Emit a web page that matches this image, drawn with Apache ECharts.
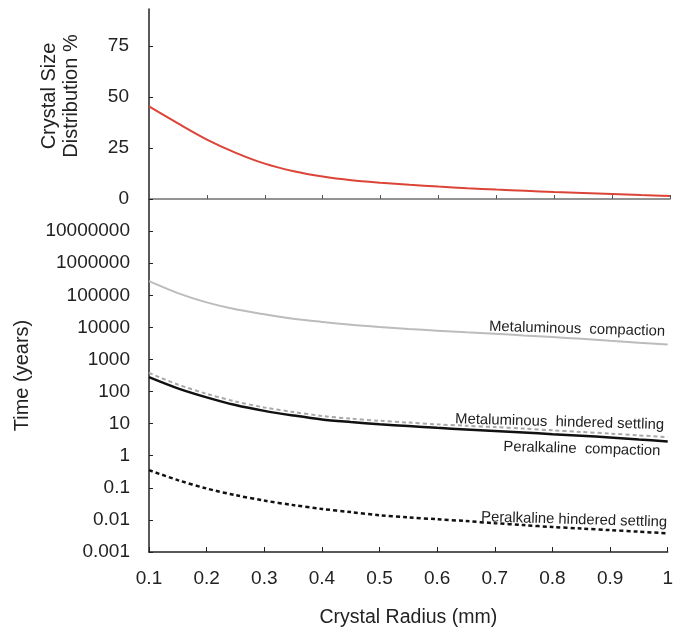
<!DOCTYPE html>
<html><head><meta charset="utf-8">
<script src="https://cdn.jsdelivr.net/npm/echarts@6/dist/echarts.min.js"></script>
<style>html,body{margin:0;padding:0;background:#fff}#c{width:676px;height:633px}</style>
</head><body><div id="c"></div>
<script>
const radius = [0.1, 0.15, 0.2, 0.25, 0.3, 0.35, 0.4, 0.45, 0.5, 0.55, 0.6, 0.65, 0.7, 0.75, 0.8, 0.85, 0.9, 0.95, 1.0];
const crystalSizeDist = [45.3, 37.0, 29.1, 22.6, 17.3, 13.6, 11.0, 9.2, 8.0, 7.0, 6.1, 5.3, 4.6, 4.0, 3.4, 2.9, 2.4, 1.9, 1.5];
const metaluminousCompaction = [275000, 117000, 60000, 36500, 25500, 18600, 14800, 12000, 10200, 8900, 7900, 7000, 6300, 5600, 5000, 4400, 3800, 3300, 2900];
const metaluminousHindered = [380, 166, 85, 49, 32, 23, 17.4, 14.3, 12.3, 10.8, 9.5, 8.6, 7.8, 7.0, 6.2, 5.5, 4.9, 4.3, 3.8];
const peralkalineCompaction = [282, 126, 66, 38, 25, 18, 13.5, 11.2, 9.5, 8.4, 7.4, 6.6, 5.9, 5.3, 4.7, 4.2, 3.7, 3.2, 2.8];
const peralkalineHindered = [0.355, 0.174, 0.095, 0.059, 0.040, 0.029, 0.022, 0.0175, 0.014, 0.012, 0.0105, 0.0092, 0.0079, 0.0069, 0.006, 0.0054, 0.0048, 0.0043, 0.0038];
const xTickLabels = ['0.1','0.2','0.3','0.4','0.5','0.6','0.7','0.8','0.9','1'];
const csdTickLabels = ['0','25','50','75'];
const timeTickLabels = ['0.001','0.01','0.1','1','10','100','1000','10000','100000','1000000','10000000'];
const seriesNames = ['Metaluminous  compaction','Metaluminous  hindered settling','Peralkaline  compaction','Peralkaline hindered settling'];

const FONT = '"Liberation Sans", Arial, Helvetica, sans-serif';
const chart = echarts.init(document.getElementById('c'), null, {renderer:'canvas'});

function pts(vals, label) {
  return radius.map((r, i) => (i === radius.length - 1 && label) ? {value:[r, vals[i]], label: label} : [r, vals[i]]);
}
function endLab(text, dx, dy) {
  return {show:true, formatter:text, position:'top', distance:0, align:'right', verticalAlign:'middle',
    offset:[dx, dy], rotate:-1.6, fontSize:14.8, color:'#222', fontFamily:FONT};
}
function lineSeries(name, vals, xi, yi, style, label) {
  return {name:name, type:'line', xAxisIndex:xi, yAxisIndex:yi, data:pts(vals, label), smooth:0.3,
    symbol:'circle', symbolSize:0, showSymbol:true, lineStyle:style, itemStyle:{color:style.color},
    emphasis:{disabled:true}, z: style.z || 2};
}

const xLabelFmt = v => { const i = Math.round(v*10) - 1; return xTickLabels[i] !== undefined ? xTickLabels[i] : ''; };
const logFmt = v => { const i = Math.round(Math.log10(v)) + 3; return timeTickLabels[i] !== undefined ? timeTickLabels[i] : ''; };
const csdFmt = v => { const i = Math.round(v/25); return (Math.abs(v - i*25) < 1e-6 && csdTickLabels[i] !== undefined) ? csdTickLabels[i] : ''; };

const option = {
  animation:false,
  backgroundColor:'#fff',
  grid:[
    {left:149, right:6, top:9, height:190},
    {left:149, right:6, top:199, height:353}
  ],
  xAxis:[
    {gridIndex:0, type:'value', min:0.1, max:1, interval:0.1, position:'bottom',
      axisLine:{show:true, onZero:false, lineStyle:{color:'#707070', width:1.5}},
      axisTick:{show:true, inside:true, length:4, lineStyle:{color:'#555', width:1}},
      axisLabel:{show:false}, splitLine:{show:false}},
    {gridIndex:1, type:'value', min:0.1, max:1, interval:0.1, position:'bottom',
      name:'Crystal Radius (mm)', nameLocation:'middle', nameGap:56,
      nameTextStyle:{fontSize:19.5, color:'#222', fontFamily:FONT},
      axisLine:{show:true, onZero:false, lineStyle:{color:'#222', width:1.5}},
      axisTick:{show:true, inside:true, length:5, lineStyle:{color:'#222', width:1}},
      axisLabel:{show:true, formatter:xLabelFmt, margin:17, fontSize:19, color:'#222', fontFamily:FONT},
      splitLine:{show:false}}
  ],
  yAxis:[
    {gridIndex:0, type:'value', min:0, max:93, interval:25,
      name:'Crystal Size\nDistribution %', nameLocation:'middle', nameGap:67, nameRotate:90,
      nameTextStyle:{fontSize:20, lineHeight:22, color:'#222', fontFamily:FONT, align:'center', padding:[0,0,0,16]},
      axisLine:{show:true, lineStyle:{color:'#222', width:1.5}},
      axisTick:{show:true, inside:true, length:4, lineStyle:{color:'#222', width:1}},
      axisLabel:{show:true, formatter:csdFmt, showMaxLabel:false, margin:20, fontSize:19, color:'#222', fontFamily:FONT},
      splitLine:{show:false}},
    {gridIndex:1, type:'log', logBase:10, min:0.001, max:100000000, interval:1, splitNumber:11,
      name:'Time (years)', nameLocation:'middle', nameGap:117, nameRotate:90,
      nameTextStyle:{fontSize:20, color:'#222', fontFamily:FONT},
      axisLine:{show:true, lineStyle:{color:'#222', width:1.5}},
      axisTick:{show:true, inside:true, length:4, interval:0, lineStyle:{color:'#222', width:1}},
      axisLabel:{show:true, interval:0, hideOverlap:false, formatter:logFmt, showMaxLabel:false, margin:19, fontSize:19, color:'#222', fontFamily:FONT},
      splitLine:{show:false}, minorTick:{show:false}}
  ],
  series:[
    lineSeries('Crystal Size Distribution', crystalSizeDist, 0, 0, {color:'#db4436', width:2}, null),
    lineSeries(seriesNames[0], metaluminousCompaction, 1, 1, {color:'#bdbbbb', width:2}, endLab(seriesNames[0], -3, -13)),
    lineSeries(seriesNames[1], metaluminousHindered, 1, 1, {color:'#a9a9a9', width:2, type:[4,3]}, endLab(seriesNames[1], -4, -12)),
    lineSeries(seriesNames[2], peralkalineCompaction, 1, 1, {color:'#111', width:2.5, z:3}, endLab(seriesNames[2], -7, 10)),
    lineSeries(seriesNames[3], peralkalineHindered, 1, 1, {color:'#111', width:2.5, type:[4,3]}, endLab(seriesNames[3], -1, -11))
  ]
};
chart.setOption(option);
</script>
</body></html>
